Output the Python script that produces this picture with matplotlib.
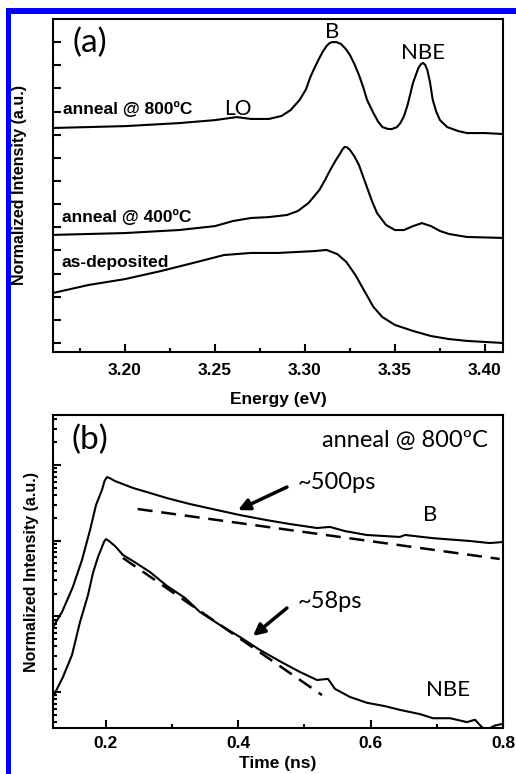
import numpy as np
import matplotlib.pyplot as plt
from matplotlib.patches import Rectangle
from matplotlib.ticker import MultipleLocator, LogLocator, NullFormatter

# ---- panel (a): PL spectra, vertically offset ----
energy_800 = [3.160, 3.200, 3.230, 3.250, 3.262, 3.270, 3.280, 3.287, 3.292, 3.297,
              3.3005, 3.303, 3.3055, 3.308, 3.310, 3.312, 3.3135, 3.315, 3.3175, 3.320,
              3.3225, 3.325, 3.3275, 3.330, 3.3325, 3.3345, 3.3365, 3.338, 3.3405, 3.343,
              3.346, 3.348, 3.351, 3.353, 3.355, 3.357, 3.360, 3.363, 3.3645, 3.3656,
              3.3668, 3.368, 3.3695, 3.371, 3.373, 3.375, 3.379, 3.385, 3.390, 3.400,
              3.410]
pl_800 = [9.29, 9.37, 9.50, 9.63, 9.76, 9.68, 9.68, 9.81, 10.06, 10.50,
          10.95, 11.49, 11.92, 12.31, 12.60, 12.83, 12.95, 13.00, 13.00, 12.92,
          12.72, 12.44, 12.05, 11.58, 11.02, 10.50, 10.18, 9.94, 9.58, 9.33,
          9.25, 9.24, 9.32, 9.50, 9.80, 10.28, 11.23, 11.88, 12.05, 12.10,
          12.02, 11.79, 11.25, 10.50, 9.98, 9.63, 9.33, 9.16, 9.07, 9.07,
          9.03]

energy_400 = [3.160, 3.200, 3.230, 3.250, 3.260, 3.270, 3.280, 3.290, 3.296, 3.302,
              3.308, 3.311, 3.314, 3.317, 3.319, 3.321, 3.322, 3.3235, 3.325, 3.3275,
              3.330, 3.3325, 3.335, 3.3375, 3.340, 3.345, 3.350, 3.355, 3.360, 3.365,
              3.370, 3.375, 3.380, 3.390, 3.410]
pl_400 = [4.67, 4.75, 4.88, 5.05, 5.27, 5.40, 5.44, 5.53, 5.70, 6.05,
          6.61, 7.02, 7.47, 7.88, 8.12, 8.38, 8.47, 8.45, 8.34, 8.06,
          7.69, 7.15, 6.61, 6.08, 5.62, 5.10, 4.88, 4.88, 5.05, 5.18,
          5.05, 4.84, 4.71, 4.58, 4.54]

energy_dep = [3.160, 3.180, 3.200, 3.220, 3.240, 3.255, 3.270, 3.285, 3.295, 3.305,
              3.312, 3.318, 3.323, 3.328, 3.333, 3.338, 3.343, 3.350, 3.360, 3.370,
              3.380, 3.390, 3.410]
pl_dep = [2.16, 2.51, 2.76, 3.11, 3.50, 3.80, 3.89, 3.89, 3.93, 3.97,
          4.02, 3.84, 3.50, 2.94, 2.25, 1.56, 1.12, 0.78, 0.52, 0.30,
          0.17, 0.09, 0.00]

# ---- panel (b): time-resolved PL, anneal @ 800C ----
time_b = [0.120, 0.1336, 0.150, 0.1638, 0.176, 0.185, 0.194, 0.198, 0.2016, 0.206,
          0.2137, 0.241, 0.2666, 0.292, 0.327, 0.368, 0.4026, 0.443, 0.478, 0.519,
          0.5386, 0.561, 0.594, 0.644, 0.652, 0.694, 0.750, 0.780, 0.800]
trpl_b = [7.2, 11.4, 24.4, 55.5, 138, 296, 468, 620, 693, 670,
          614, 497, 427, 366, 305, 254, 218, 187, 166, 147,
          152, 134, 119, 112, 119, 108, 99, 93, 96]

time_nbe = [0.120, 0.1351, 0.1487, 0.1608, 0.1729, 0.1804, 0.188, 0.194, 0.1975, 0.200,
            0.204, 0.2137, 0.2258, 0.2409, 0.2666, 0.2923, 0.3195, 0.3421, 0.3724, 0.4026,
            0.4328, 0.4676, 0.4932, 0.5189, 0.5356, 0.5461, 0.5688, 0.5945, 0.6217, 0.6443,
            0.6746, 0.6942, 0.720, 0.7456, 0.7577, 0.7728, 0.7879, 0.800]
trpl_nbe = [0.86, 1.58, 3.08, 8.4, 19.1, 37.4, 60.8, 82.5, 98, 105,
            100, 85, 64.6, 53.8, 38.5, 25.2, 17.5, 11.4, 7.68, 5.33,
            3.59, 2.42, 1.84, 1.44, 1.49, 1.10, 0.86, 0.72, 0.65, 0.58,
            0.51, 0.45, 0.45, 0.40, 0.43, 0.31, 0.36, 0.38]

fit_b_t = [0.248, 0.795]
fit_b_i = [262, 57.3]
fit_nbe_t = [0.2258, 0.5265]
fit_nbe_i = [59.0, 0.91]

bold = {'family': 'Liberation Sans', 'weight': 'bold'}
soft = 'Lato'

fig = plt.figure(figsize=(5.16, 7.74), dpi=100)

# blue frame lines along top and left edge
fig.patches.append(Rectangle((6 / 516, 1 - 14 / 774), 1, 6 / 774, transform=fig.transFigure,
                             color='#0000ff', lw=0))
fig.patches.append(Rectangle((6 / 516, 0), 5 / 516, 1 - 8 / 774, transform=fig.transFigure,
                             color='#0000ff', lw=0))

ax1 = fig.add_axes([0.1027, 0.5452, 0.872, 0.4303])
ax2 = fig.add_axes([0.1027, 0.0594, 0.872, 0.4044])

for ax in (ax1, ax2):
    for s in ax.spines.values():
        s.set_linewidth(1.5)
    ax.tick_params(which='major', direction='in', length=6, width=1.5, top=False, right=False)
    ax.tick_params(which='minor', direction='in', length=3, width=1.5, top=False, right=False)
    ax.tick_params(axis='x', pad=8)

# panel (a)
ax1.plot(energy_800, pl_800, color='k', lw=1.5)
ax1.plot(energy_400, pl_400, color='k', lw=1.5)
ax1.plot(energy_dep, pl_dep, color='k', lw=1.5)
ax1.set_xlim(3.16, 3.41)
ax1.set_ylim(-0.39, 14.0)
ax1.set_xticks([3.20, 3.25, 3.30, 3.35, 3.40])
ax1.xaxis.set_minor_locator(MultipleLocator(0.025))
ax1.set_xticklabels(['3.20', '3.25', '3.30', '3.35', '3.40'], fontdict=dict(bold, size=12.5))
ax1.set_yticks(np.arange(0, 14))
ax1.set_yticklabels([])
ax1.set_xlabel('Energy (eV)', fontdict=dict(bold, size=12.5), labelpad=10)
ax1.set_ylabel('Normalized Intensity (a.u.)', fontdict=dict(bold, size=11.5))
ax1.yaxis.set_label_coords(-0.057, 0.5)

ax1.text(0.082, 0.928, '(a)', transform=ax1.transAxes, family=soft, size=24, ha='center', va='center')
ax1.text(0.62, 0.962, 'B', transform=ax1.transAxes, family=soft, size=16, ha='center', va='center')
ax1.text(0.822, 0.898, 'NBE', transform=ax1.transAxes, family=soft, size=16, ha='center', va='center')
ax1.text(0.411, 0.730, 'LO', transform=ax1.transAxes, family=soft, size=15, ha='center', va='center')
ax1.text(0.022, 0.730, 'anneal @ 800ºC', transform=ax1.transAxes, fontdict=dict(bold, size=12.5), va='center')
ax1.text(0.020, 0.405, 'anneal @ 400ºC', transform=ax1.transAxes, fontdict=dict(bold, size=12.5), va='center')
ax1.text(0.020, 0.270, 'as-deposited', transform=ax1.transAxes, fontdict=dict(bold, size=12.5), va='center')

# panel (b)
ax2.set_yscale('log')
ax2.plot(time_b, trpl_b, color='k', lw=1.5)
ax2.plot(time_nbe, trpl_nbe, color='k', lw=1.5)
ax2.plot(fit_b_t, fit_b_i, color='k', lw=1.8, linestyle=(0, (6, 3.5)))
ax2.plot(fit_nbe_t, fit_nbe_i, color='k', lw=1.8, linestyle=(0, (6, 3.5)))
ax2.set_xlim(0.12, 0.8)
ax2.set_ylim(0.334, 4581)
ax2.set_xticks([0.2, 0.4, 0.6, 0.8])
ax2.xaxis.set_minor_locator(MultipleLocator(0.1))
ax2.set_xticklabels(['0.2', '0.4', '0.6', '0.8'], fontdict=dict(bold, size=12.5))
ax2.tick_params(axis='x', pad=6)
ax2.yaxis.set_major_locator(LogLocator(base=10, numticks=10))
ax2.yaxis.set_minor_locator(LogLocator(base=10, subs=np.arange(2, 10), numticks=20))
ax2.yaxis.set_major_formatter(NullFormatter())
ax2.yaxis.set_minor_formatter(NullFormatter())
ax2.set_xlabel('Time (ns)', fontdict=dict(bold, size=12.5), labelpad=3)
ax2.set_ylabel('Normalized Intensity (a.u.)', fontdict=dict(bold, size=11.5))
ax2.yaxis.set_label_coords(-0.032, 0.5)

ax2.annotate('', xy=(0.3996, 254), xytext=(0.4736, 512),
             arrowprops=dict(arrowstyle='-|>', lw=2.5, mutation_scale=17, color='k', shrinkA=0, shrinkB=0))
ax2.annotate('', xy=(0.4222, 5.5), xytext=(0.4736, 12.9),
             arrowprops=dict(arrowstyle='-|>', lw=2.5, mutation_scale=17, color='k', shrinkA=0, shrinkB=0))
ax2.text(0.544, 0.786, '~500ps', transform=ax2.transAxes, family=soft, size=17, va='center')
ax2.text(0.544, 0.403, '~58ps', transform=ax2.transAxes, family=soft, size=17, va='center')
ax2.text(0.082, 0.920, '(b)', transform=ax2.transAxes, family=soft, size=24, ha='center', va='center')
ax2.text(0.967, 0.920, 'anneal @ 800ºC', transform=ax2.transAxes, family=soft, size=17, ha='right', va='center')
ax2.text(0.838, 0.680, 'B', transform=ax2.transAxes, family=soft, size=16, ha='center', va='center')
ax2.text(0.878, 0.121, 'NBE', transform=ax2.transAxes, family=soft, size=16, ha='center', va='center')

fig.savefig('out.png', dpi=100)
